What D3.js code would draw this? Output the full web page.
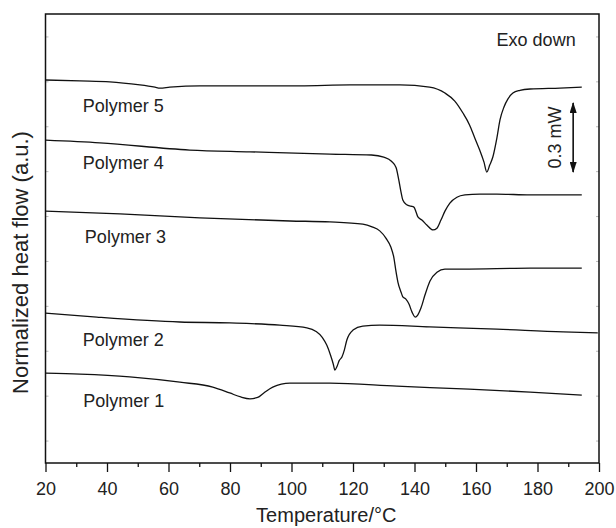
<!DOCTYPE html>
<meta charset="utf-8">
<style>
  body {
    margin: 0;
    background: #fff;
    font-family: "Liberation Sans", Arial, sans-serif;
  }
  .axis path,
  .axis line {
    fill: none;
    stroke: #111;
    stroke-width: 1.3;
  }
  .axis text {
    fill: #222;
    font-family: "Liberation Sans", Arial, sans-serif;
    font-size: 18px;
  }
  .yaxis line {
    stroke: #bbb;
    stroke-width: 1;
  }
  .curve {
    fill: none;
    stroke: #111;
    stroke-width: 1.3;
    stroke-linejoin: round;
  }
  .label {
    fill: #222;
    font-size: 18px;
  }
  .title {
    fill: #222;
    font-size: 21px;
  }
</style>
<body>
<script src="https://d3js.org/d3.v7.min.js"></script>
<script>
// DSC traces, [temperature °C, heat flow a.u.]
var polymer1 = [[20,2.00],[31.2,1.98],[47.4,1.92],[63.7,1.80],[74.4,1.69],[79.9,1.56],[83.5,1.47],[86.5,1.43],
  [89,1.46],[91,1.56],[93.9,1.69],[99.5,1.78],[107,1.78],[112.5,1.78],[134.3,1.71],[155.7,1.65],[177.6,1.58],[194.4,1.51]];
var polymer2 = [[20,3.34],[36.7,3.25],[63.7,3.14],[80,3.12],[96.2,3.07],[105,3.01],[108,2.93],[110,2.80],
  [111.5,2.62],[112.7,2.40],[113.6,2.20],[114.1,2.07],[114.8,2.15],[115.5,2.28],[116.4,2.36],[117.2,2.52],
  [118,2.74],[120,2.96],[123.2,3.05],[128.7,3.07],[144.9,3.03],[166.8,2.98],[188.3,2.92],[199.6,2.90]];
var polymer3 = [[20,5.61],[44.2,5.55],[70.2,5.46],[99.5,5.39],[112.5,5.37],[123.2,5.32],[126.2,5.26],[128.7,5.17],
  [130.7,5.01],[132.3,4.81],[133.3,4.57],[133.9,4.30],[134.6,4.03],[135.6,3.81],[136.2,3.70],[137.2,3.65],
  [138.2,3.54],[139.2,3.36],[140.2,3.25],[141.1,3.30],[142.1,3.45],[143.4,3.74],[145,4.05],[147.3,4.25],
  [149.9,4.32],[155.7,4.32],[177.6,4.34],[194.4,4.34]];
var polymer4 = [[20,7.19],[37.7,7.13],[66.9,6.97],[86.5,6.93],[112.5,6.88],[126,6.86],[130,6.81],[132.5,6.72],
  [134,6.58],[134.9,6.30],[135.6,6.04],[136.2,5.86],[137.5,5.75],[138.8,5.72],[139.8,5.70],[140.5,5.59],
  [141.1,5.48],[142.4,5.41],[144,5.30],[146,5.19],[147.3,5.23],[148.6,5.41],[149.9,5.61],[151.5,5.79],
  [153.8,5.92],[156.4,5.97],[161.2,5.99],[166.8,5.99],[177.6,5.97],[194.4,5.97]];
var polymer5 = [[20,8.53],[31.2,8.51],[40.9,8.49],[50.7,8.42],[55.6,8.37],[57.2,8.35],[60.4,8.37],[70.2,8.40],
  [86.5,8.40],[102.7,8.40],[119,8.42],[135.3,8.42],[144.9,8.37],[149.9,8.24],[153.1,8.06],[155.7,7.80],
  [157.9,7.53],[159.6,7.24],[161.2,6.97],[162.6,6.70],[163.5,6.48],[164.5,6.64],[165.5,6.82],[166.8,7.24],
  [167.8,7.64],[169.1,7.93],[170.4,8.11],[172,8.24],[174.3,8.30],[177.6,8.33],[187.3,8.35],[194.4,8.37]];

var seriesNames = ["Polymer 1", "Polymer 2", "Polymer 3", "Polymer 4", "Polymer 5"];
var seriesData = [polymer1, polymer2, polymer3, polymer4, polymer5];

var xMajorTicks = [20, 40, 60, 80, 100, 120, 140, 160, 180, 200];
var xMinorTicks = [30, 50, 70, 90, 110, 130, 150, 170, 190];
var yTicks = [0.5, 1.5, 2.5, 3.5, 4.5, 5.5, 6.5, 7.5, 8.5, 9.5];

var scaleBar = [8.02, 6.48];   // 0.3 mW
var scaleBarText = "0.3 mW";

// label anchors (temperature, heat flow) -- layout only
var labelPos = [[32.3, 1.25], [32.1, 2.61], [32.8, 4.90], [32.1, 6.55], [32.1, 7.82]];

var margin = {top: 14, left: 45.5},
    width = 553.5,
    height = 449;

var x = d3.scaleLinear().domain([20, 200]).range([0, width]);
var y = d3.scaleLinear().domain([0, 10]).range([height, 0]);

var svg = d3.select("body").append("svg")
    .attr("width", 616)
    .attr("height", 528)
  .append("g")
    .attr("transform", "translate(" + margin.left + "," + margin.top + ")");

// y ticks, inside, left and right
svg.append("g")
    .attr("class", "axis yaxis")
    .call(d3.axisLeft(y).tickValues(yTicks).tickSize(-3).tickFormat(""))
    .select(".domain").remove();
svg.append("g")
    .attr("class", "axis yaxis")
    .attr("transform", "translate(" + width + ",0)")
    .call(d3.axisRight(y).tickValues(yTicks).tickSize(-3).tickFormat(""))
    .select(".domain").remove();

// x axis
svg.append("g")
    .attr("class", "axis")
    .attr("transform", "translate(0," + height + ")")
    .call(d3.axisBottom(x).tickValues(xMajorTicks).tickSizeInner(9).tickSizeOuter(0).tickPadding(10).tickFormat(d3.format("d")))
    .select(".domain").remove();
svg.append("g")
    .attr("class", "axis")
    .attr("transform", "translate(0," + height + ")")
    .call(d3.axisBottom(x).tickValues(xMinorTicks).tickSize(4).tickFormat(""))
    .select(".domain").remove();

// frame
svg.append("rect")
    .attr("width", width)
    .attr("height", height)
    .style("fill", "none")
    .style("stroke", "#111")
    .style("stroke-width", 1.5);

var line = d3.line()
    .x(function(d) { return x(d[0]); })
    .y(function(d) { return y(d[1]); })
    .curve(d3.curveMonotoneX);

svg.selectAll("path.curve")
    .data(seriesData)
    .enter().append("path")
    .attr("class", "curve")
    .attr("d", line);

svg.selectAll("text.label")
    .data(seriesNames)
    .enter().append("text")
    .attr("class", "label")
    .attr("x", function(d, i) { return x(labelPos[i][0]); })
    .attr("y", function(d, i) { return y(labelPos[i][1]); })
    .text(function(d) { return d; });

svg.append("text")
    .attr("class", "label")
    .attr("x", x(166.7))
    .attr("y", 32)
    .text("Exo down");

// scale bar
var defs = svg.append("defs");
defs.append("marker")
    .attr("id", "head")
    .attr("viewBox", "0 0 11 7")
    .attr("refX", 10)
    .attr("refY", 3.5)
    .attr("markerWidth", 11)
    .attr("markerHeight", 7)
    .attr("markerUnits", "userSpaceOnUse")
    .attr("orient", "auto-start-reverse")
  .append("path")
    .attr("d", "M0,0L11,3.5L0,7z")
    .style("fill", "#111");

var barX = x(191.6);
svg.append("line")
    .attr("x1", barX).attr("x2", barX)
    .attr("y1", y(scaleBar[0])).attr("y2", y(scaleBar[1]))
    .style("stroke", "#111")
    .style("stroke-width", 1.6)
    .attr("marker-start", "url(#head)")
    .attr("marker-end", "url(#head)");

svg.append("text")
    .attr("class", "label")
    .attr("transform", "translate(" + (barX - 12) + "," + y((scaleBar[0] + scaleBar[1]) / 2) + ") rotate(-90)")
    .attr("text-anchor", "middle")
    .style("font-size", "18px")
    .text(scaleBarText);

// axis titles
svg.append("text")
    .attr("class", "title")
    .attr("x", width / 2 + 4)
    .attr("y", height + 59)
    .attr("text-anchor", "middle")
    .style("font-size", "20px")
    .text("Temperature/°C");

svg.append("text")
    .attr("class", "title")
    .attr("transform", "translate(-18," + (height / 2 + 24) + ") rotate(-90)")
    .attr("text-anchor", "middle")
    .style("font-size", "22px")
    .text("Normalized heat flow (a.u.)");
</script>
